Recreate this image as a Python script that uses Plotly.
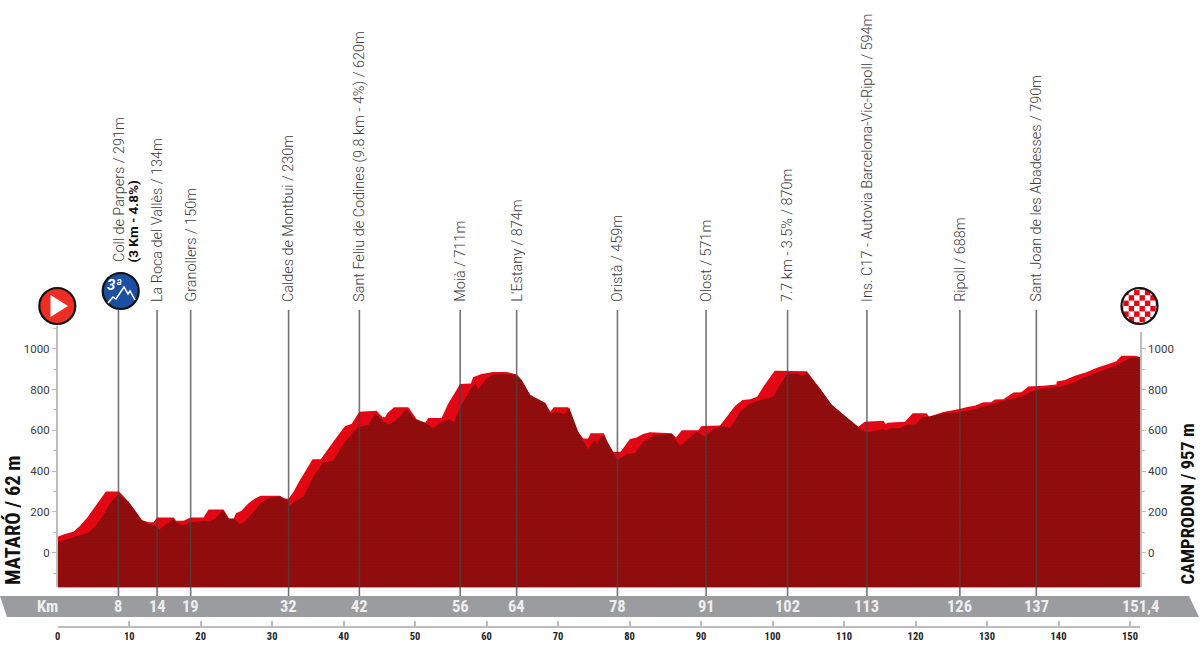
import plotly.graph_objects as go

# profile (km, metres)
top_km = [0, 1.0, 2.2, 3.1, 4.15, 5.2, 5.9, 6.75, 8.6, 9.9, 10.8, 11.75, 12.7, 13.4, 13.9, 16.2, 16.55, 17.6, 18.6,
          20.4, 21.1, 23.2, 24.0, 24.6, 24.95, 25.7, 26.7, 27.6, 28.4, 31.1, 31.6, 32.3, 33.0, 33.9, 35.66, 36.8,
          38.55, 40.2, 41.1, 42.2, 44.6, 45.45, 45.8, 46.1, 47.05, 49.05, 50.2, 51.4, 51.85, 53.7, 54.6, 56.3, 57.8,
          58.1, 59.3, 60.9, 62.8, 64.2, 64.9, 66.1, 68.2, 68.9, 69.4, 71.4, 72.8, 73.5, 74.2, 74.55, 76.4, 77.0,
          77.7, 78.75, 80.05, 80.9, 81.9, 82.85, 85.9, 86.5, 87.3, 89.6, 90.1, 92.65, 93.6, 94.75, 95.8, 96.85,
          97.85, 98.7, 100.3, 102.7, 104.8, 106.6, 108.3, 110.35, 112.0, 112.9, 115.5, 115.8, 116.1, 117.8, 118.5,
          119.6, 121.55, 121.9, 122.95, 123.9, 126.0, 127.4, 128.3, 129.5, 130.6, 131.1, 132.3, 133.7, 134.8, 135.8,
          137.9, 139.7, 139.75, 140.9, 142.3, 143.9, 145.3, 147.0, 148.1, 148.8, 150.7, 151.4]
top_elev = [78, 92, 103, 131, 173, 225, 258, 300, 300, 250, 209, 160, 149, 149, 173, 173, 157, 157, 173,
            173, 212, 212, 165, 165, 193, 206, 242, 266, 279, 279, 266, 265, 299, 356, 458, 458,
            544, 621, 631, 691, 696, 664, 664, 683, 713, 713, 654, 637, 660, 660, 729, 827, 830,
            860, 876, 886, 886, 873, 846, 773, 735, 691, 713, 713, 593, 560, 560, 585, 585, 536,
            495, 495, 557, 564, 582, 590, 585, 565, 600, 600, 621, 624, 667, 719, 748, 752,
            765, 814, 892, 892, 889, 806, 724, 664, 618, 642, 647, 631, 637, 641, 641,
            684, 684, 667, 679, 690, 703, 716, 720, 738, 738, 751, 752, 785, 787, 815,
            818, 825, 839, 847, 867, 884, 905, 926, 938, 966, 966, 959]

front_km = [0, 1.0, 2.7, 4.3, 5.2, 6.4, 7.3, 8.5, 9.9, 10.8, 11.75, 12.7, 13.85, 14.2, 15.25, 16.2, 16.65, 17.6, 18.6,
            20.4, 21.3, 22.2, 23.1, 23.9, 24.6, 25.5, 26.2, 27.4, 28.5, 29.7, 31.1, 32.0, 32.4, 33.0, 34.4, 35.75,
            37.15, 38.55, 39.7, 41.35, 42.2, 43.45, 44.4, 45.55, 46.25, 47.2, 48.8, 50.0, 51.4, 52.55, 53.7, 54.65,
            55.45, 56.3, 57.8, 58.4, 58.85, 60.0, 60.9, 62.8, 64.2, 64.9, 66.1, 68.2, 69.0, 69.5, 70.95, 71.55, 72.8,
            74.2, 75.15, 75.5, 75.86, 76.4, 77.0, 78.3, 79.6, 80.75, 81.9, 83.55, 85.9, 87.05, 88.0, 89.4, 90.55,
            91.5, 92.9, 94.05, 95.45, 96.85, 98.7, 100.1, 101.3, 102.1, 103.6, 104.1, 104.8, 106.6, 108.3, 110.35,
            112.0, 113.15, 115.5, 115.9, 116.4, 117.8, 118.75, 120.15, 120.85, 121.8, 123.9, 126.0, 128.3, 131.1,
            133.0, 134.8, 136.2, 137.6, 139.75, 141.6, 143.7, 145.8, 148.1, 150.0, 151.4]
front_elev = [54, 62, 82, 98, 127, 185, 242, 288, 250, 209, 160, 141, 131, 114, 141, 168, 144, 136, 149,
              157, 152, 173, 209, 168, 168, 141, 152, 201, 247, 270, 275, 261, 229, 247, 275, 373,
              443, 451, 520, 593, 618, 626, 683, 642, 629, 647, 703, 654, 637, 610, 642, 654,
              642, 713, 806, 827, 801, 855, 873, 876, 871, 846, 773, 732, 680, 691, 680, 713, 593,
              508, 552, 530, 572, 570, 536, 454, 484, 487, 544, 577, 582, 523, 552, 593, 569,
              601, 621, 610, 691, 732, 752, 765, 838, 879, 876, 866, 882, 806, 724, 664,
              615, 590, 605, 598, 610, 610, 626, 631, 664, 666, 684, 687, 703, 733,
              749, 766, 790, 802, 811, 826, 861, 889, 918, 954, 959]

base_km = [0, 151.4]
base_elev = [-170, -170]

# passes
pass_km = [8.5, 13.9, 18.6, 32.3, 42.2, 56.3, 64.2, 78.3, 90.7, 102.1, 113.2, 126.2, 136.9]
pass_labels = ["Coll de Parpers / 291m", "La Roca del Vallès / 134m", "Granollers / 150m",
               "Caldes de Montbui / 230m", "Sant Feliu de Codines (9.8 km - 4%) / 620m", "Moià / 711m",
               "L'Estany / 874m", "Oristà / 459m", "Olost / 571m", "7.7 km - 3.5% / 870m",
               "Ins. C17 - Autovia Barcelona-Vic-Ripoll / 594m", "Ripoll / 688m",
               "Sant Joan de les Abadesses / 790m"]
band_labels = ["8", "14", "19", "32", "42", "56", "64", "78", "91", "102", "113", "126", "137"]

km_ticks = [0, 10, 20, 30, 40, 50, 60, 70, 80, 90, 100, 110, 120, 130, 140, 150, 151.4]
km_tick_text = ["0", "10", "20", "30", "40", "50", "60", "70", "80", "90", "100", "110", "120", "130", "140", "150", ""]

W, H = 1200, 645
RED = "#e30613"
DARK = "#930d0d"
GREY = "#bdbdbd"
TEXT = "#3c3c3c"
NARROW = dict(family="Roboto Condensed, Roboto", weight="bold")


def px(x):
    return x / W


def py(y):
    return 1 - y / H


def circle(cx, cy, r, fill, line="#111111", width=2.2):
    return dict(type="circle", xref="paper", yref="paper", x0=px(cx - r), x1=px(cx + r), y0=py(cy + r), y1=py(cy - r),
                fillcolor=fill, line=dict(color=line, width=width), layer="above")


def path(points, fill=None, line=None, width=0):
    d = "M " + " L ".join(f"{px(a):.5f},{py(b):.5f}" for a, b in points)
    if fill:
        d += " Z"
    return dict(type="path", xref="paper", yref="paper", path=d, fillcolor=fill or "rgba(0,0,0,0)",
                line=dict(color=line or "rgba(0,0,0,0)", width=width), layer="above")


fig = go.Figure()
fig.add_trace(go.Scatter(x=base_km, y=base_elev, mode="lines", line=dict(width=0), showlegend=False))
fig.add_trace(go.Scatter(x=top_km, y=top_elev, mode="lines", line=dict(width=0), fill="tonexty", fillcolor=RED,
                         showlegend=False))
fig.add_trace(go.Scatter(x=base_km, y=base_elev, mode="lines", line=dict(width=0), showlegend=False))
fig.add_trace(go.Scatter(x=front_km, y=front_elev, mode="lines", line=dict(width=0), fill="tonexty",
                         fillcolor=DARK, showlegend=False,
                         fillpattern=dict(shape=".", size=3, solidity=0.25, fgcolor="#7e0a0a", bgcolor=DARK)))
# second y axis only carries the right hand ticks
fig.add_trace(go.Scatter(x=base_km, y=base_elev, yaxis="y3", mode="lines", line=dict(width=0), showlegend=False))
# bottom km ruler has its own little subplot
fig.add_trace(go.Scatter(x=base_km, y=[0, 0], xaxis="x2", yaxis="y2", mode="lines", line=dict(width=0),
                         showlegend=False))

shapes = []
# km band
shapes.append(path([(0, 596), (1189, 596), (1199, 617), (7, 617)], fill="#9a9c9f"))
for km in pass_km:
    shapes.append(dict(type="line", xref="x", yref="paper", x0=km, x1=km, y0=py(596), y1=py(310),
                       line=dict(color="rgba(70,70,70,0.75)", width=1.6), layer="above"))

# start icon
shapes.append(circle(57.3, 306, 18, "#ee2e24"))
shapes.append(path([(50.5, 295), (68, 306), (50.5, 317)], fill="white"))

# mountain pass icon
shapes.append(circle(120.7, 291, 18, "#1c4ea1"))
shapes.append(path([(108, 303), (113, 297), (116, 299), (124, 287), (128, 294), (130, 291), (135, 300)],
                   line="white", width=1.5))

# finish icon, checker squares
shapes.append(circle(1139.5, 306, 18, "white", width=0))
cell = 5.4
for i in range(-4, 4):
    for j in range(-4, 4):
        if (i + j) % 2:
            continue
        x0, y0 = 1139.5 + i * cell, 306 + j * cell
        corners = [(x0, y0), (x0 + cell, y0), (x0 + cell, y0 + cell), (x0, y0 + cell)]
        if any((a - 1139.5) ** 2 + (b - 306) ** 2 < 18 ** 2 for a, b in corners):
            shapes.append(path(corners, fill="#e30613"))
# white ring hides the square corners, black ring goes on top
shapes.append(circle(1139.5, 306, 22, "rgba(0,0,0,0)", line="white", width=8))
shapes.append(circle(1139.5, 306, 18, "rgba(0,0,0,0)"))

annotations = []
for km, label in zip(pass_km, pass_labels):
    base_y = 264 if km == pass_km[0] else 304
    annotations.append(dict(x=km, xref="x", xanchor="center", xshift=1 if km == pass_km[0] else 0, y=py(base_y),
                            yref="paper", yanchor="bottom", text=label, textangle=-90, showarrow=False,
                            font=dict(family="Roboto", size=14.4, weight=300, color=TEXT)))
annotations.append(dict(x=pass_km[0], xref="x", xanchor="center", xshift=15, y=py(264), yref="paper", yanchor="bottom",
                        text="<b>(3 Km - 4.8%)</b>", textangle=-90, showarrow=False,
                        font=dict(family="Roboto", size=13.5, color="#111111")))

for km, label in zip(pass_km, band_labels):
    annotations.append(dict(x=km, xref="x", xanchor="center", y=py(606.5), yref="paper", yanchor="middle",
                            text=label, showarrow=False,
                            font=dict(size=16.5, color="#eeeeee", **NARROW)))
# Km sits left of the axis range so it has to be paper positioned
annotations.append(dict(x=px(47), xref="paper", xanchor="center", y=py(606.5), yref="paper", yanchor="middle",
                        text="Km", showarrow=False, font=dict(size=16.5, color="#eeeeee", **NARROW)))
annotations.append(dict(x=151.4, xref="x", xanchor="center", y=py(606.5), yref="paper", yanchor="middle",
                        text="151,4", showarrow=False, font=dict(size=16.5, color="#eeeeee", **NARROW)))

annotations.append(dict(x=px(13), xref="paper", xanchor="center", y=py(587), yref="paper", yanchor="bottom",
                        text="MATARÓ / 62 m", textangle=-90, showarrow=False,
                        font=dict(size=20.5, color="#111111", **NARROW)))
annotations.append(dict(x=px(1187), xref="paper", xanchor="center", y=py(587), yref="paper", yanchor="bottom",
                        text="CAMPRODON / 957 m", textangle=-90, showarrow=False,
                        font=dict(size=18.5, color="#111111", **NARROW)))

# 3a text in the pass icon
annotations.append(dict(x=px(114.5), xref="paper", xanchor="center", y=py(285), yref="paper", yanchor="middle",
                        text="<b><i>3ª</i></b>", showarrow=False, font=dict(family="Roboto", size=15, color="white")))

y_range = [-170, 1110]
y_domain = [py(587.4), py(552.7 - 1110 * 0.204)]
y_common = dict(range=y_range, domain=y_domain, dtick=200, tick0=0, showgrid=False, zeroline=False, showline=True,
                linecolor=GREY, linewidth=1.6, ticks="outside", ticklen=4, tickcolor=GREY, tickwidth=1.3,
                minor=dict(dtick=100, tick0=0, ticks="outside", ticklen=3, tickcolor=GREY, showgrid=False),
                tickfont=dict(family="Roboto", size=11.5, color=TEXT), fixedrange=True)

fig.update_layout(
    width=W, height=H,
    autosize=False,
    margin=dict(l=0, r=0, t=0, b=0, autoexpand=False),
    paper_bgcolor="white",
    plot_bgcolor="rgba(0,0,0,0)",
    showlegend=False,
    shapes=shapes,
    annotations=annotations,
    xaxis=dict(range=[0, 151.4], domain=[px(57.7), px(1140)], visible=False, anchor="y"),
    yaxis=dict(side="left", anchor="x", **y_common),
    yaxis3=dict(side="right", anchor="x", overlaying="y", **y_common),
    xaxis2=dict(range=[0, 151.4], domain=[px(57.7), px(1140)], anchor="y2", side="bottom", showgrid=False,
                zeroline=False, showline=True, linecolor=GREY, linewidth=2, tickmode="array", tickvals=km_ticks,
                ticktext=km_tick_text, ticks="inside", ticklen=5, tickcolor=GREY, tickwidth=1.5,
                tickfont=dict(size=10.5, color="#222222", **NARROW)),
    yaxis2=dict(range=[0, 1], domain=[py(625.7), py(615)], visible=False, anchor="x2"),
)

# the page's default body margin would push the fixed size figure off the window
fig.write_html("out.html", post_script="document.body.style.margin='0';", config={"displayModeBar": False})
